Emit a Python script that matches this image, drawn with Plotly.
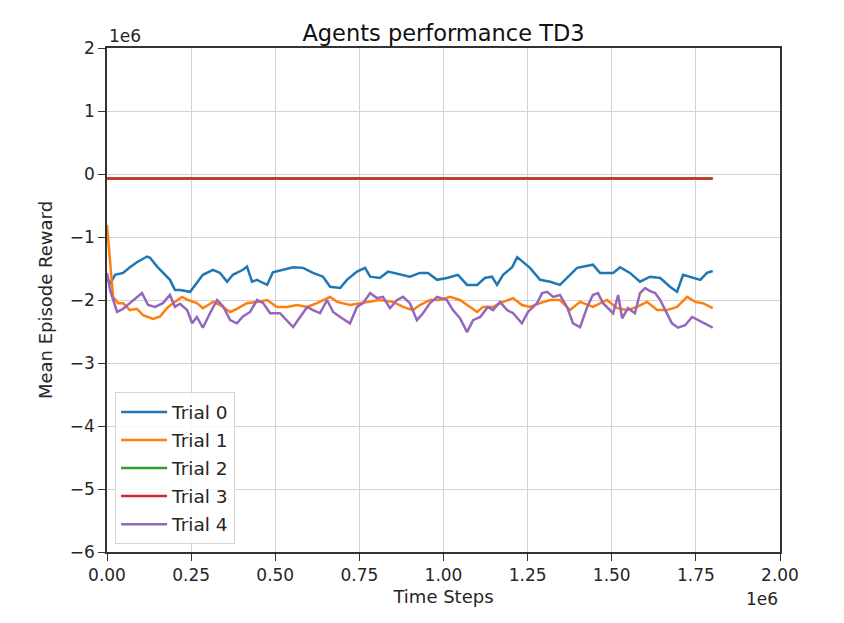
import numpy as np
import plotly.graph_objects as go

# Time steps in thousands, mean episode reward in millions
t_trial0 = [0, 9, 24, 48, 68, 89, 119, 128, 149, 166, 187, 202, 217, 247, 267, 285, 315, 336,
            357, 374, 404, 416, 431, 446, 464, 476, 493, 523, 553, 583, 612, 642, 663, 693,
            713, 743, 767, 782, 811, 835, 871, 900, 930, 954, 981, 1010, 1043, 1070, 1100,
            1123, 1144, 1159, 1177, 1204, 1219, 1236, 1257, 1287, 1317, 1346, 1367, 1397,
            1444, 1465, 1504, 1525, 1554, 1584, 1614, 1644, 1673, 1694, 1712, 1742, 1763,
            1783, 1800]
r_trial0 = [-1.62, -1.75, -1.60, -1.57, -1.48, -1.40, -1.31, -1.33, -1.47, -1.57, -1.68,
            -1.84, -1.84, -1.87, -1.73, -1.60, -1.52, -1.57, -1.71, -1.60, -1.52, -1.47,
            -1.71, -1.68, -1.73, -1.76, -1.56, -1.52, -1.48, -1.49, -1.57, -1.63, -1.79,
            -1.81, -1.68, -1.55, -1.49, -1.63, -1.65, -1.55, -1.60, -1.63, -1.57, -1.57,
            -1.68, -1.65, -1.60, -1.76, -1.76, -1.65, -1.63, -1.76, -1.60, -1.48, -1.32,
            -1.40, -1.49, -1.68, -1.71, -1.76, -1.65, -1.49, -1.44, -1.57, -1.57, -1.48,
            -1.57, -1.71, -1.63, -1.65, -1.79, -1.87, -1.60, -1.65, -1.68, -1.57, -1.54]

t_trial1 = [0, 18, 33, 48, 68, 89, 107, 137, 158, 178, 196, 223, 241, 267, 285, 315, 336,
            366, 386, 416, 446, 476, 505, 535, 565, 595, 624, 663, 684, 722, 752, 782, 811,
            850, 880, 909, 930, 960, 990, 1019, 1049, 1079, 1100, 1117, 1147, 1177, 1207,
            1233, 1257, 1287, 1317, 1346, 1376, 1406, 1444, 1486, 1516, 1545, 1575, 1605,
            1635, 1664, 1694, 1724, 1748, 1771, 1800]
r_trial1 = [-0.81, -1.95, -2.05, -2.05, -2.16, -2.14, -2.24, -2.30, -2.26, -2.13, -2.05,
            -1.95, -2.00, -2.05, -2.13, -2.03, -2.08, -2.19, -2.14, -2.05, -2.03, -2.00,
            -2.11, -2.11, -2.08, -2.11, -2.05, -1.95, -2.03, -2.08, -2.05, -2.03, -2.00,
            -2.03, -2.11, -2.16, -2.08, -2.00, -2.00, -1.95, -2.00, -2.11, -2.19, -2.11,
            -2.11, -2.03, -1.97, -2.08, -2.11, -2.05, -2.00, -2.00, -2.16, -2.03, -2.11,
            -2.00, -2.13, -2.16, -2.11, -2.03, -2.16, -2.16, -2.11, -1.95, -2.03, -2.05,
            -2.13]

t_trial2 = [0, 450, 900, 1350, 1800]
r_trial2 = [-0.07, -0.07, -0.07, -0.07, -0.07]

t_trial3 = [0, 450, 900, 1350, 1800]
r_trial3 = [-0.07, -0.07, -0.07, -0.07, -0.07]

t_trial4 = [0, 9, 30, 48, 68, 89, 104, 122, 143, 166, 187, 202, 217, 238, 253, 267, 285,
            306, 327, 345, 366, 386, 404, 425, 446, 464, 485, 514, 535, 553, 574, 595, 612,
            633, 654, 672, 693, 722, 743, 761, 782, 802, 820, 841, 862, 880, 900, 921, 939,
            960, 981, 1010, 1028, 1049, 1070, 1088, 1109, 1132, 1147, 1168, 1189, 1207,
            1233, 1251, 1278, 1293, 1308, 1326, 1346, 1367, 1385, 1406, 1427, 1444, 1459,
            1474, 1504, 1519, 1531, 1548, 1569, 1584, 1599, 1614, 1629, 1644, 1659, 1679,
            1697, 1718, 1739, 1756, 1777, 1800]
r_trial4 = [-1.57, -1.84, -2.19, -2.14, -2.05, -1.95, -1.89, -2.08, -2.11, -2.05, -1.92,
            -2.11, -2.06, -2.16, -2.37, -2.27, -2.44, -2.21, -2.00, -2.10, -2.32, -2.37,
            -2.26, -2.19, -2.00, -2.05, -2.21, -2.21, -2.32, -2.43, -2.27, -2.11, -2.16,
            -2.21, -2.00, -2.19, -2.27, -2.37, -2.11, -2.05, -1.89, -1.97, -1.95, -2.13,
            -2.00, -1.95, -2.05, -2.32, -2.21, -2.05, -1.95, -2.00, -2.16, -2.29, -2.51,
            -2.32, -2.27, -2.11, -2.16, -2.03, -2.16, -2.21, -2.37, -2.19, -2.05, -1.89,
            -1.87, -1.95, -1.92, -2.11, -2.37, -2.43, -2.11, -1.92, -1.89, -2.05, -2.21,
            -1.92, -2.29, -2.13, -2.21, -1.89, -1.81, -1.86, -1.89, -2.00, -2.16, -2.37,
            -2.44, -2.40, -2.27, -2.32, -2.37, -2.44]

trial_names = ["Trial 0", "Trial 1", "Trial 2", "Trial 3", "Trial 4"]
trial_colors = ["#1f77b4", "#ff7f0e", "#2ca02c", "#d62728", "#9467bd"]
x_ticks = [0.0, 0.25, 0.5, 0.75, 1.0, 1.25, 1.5, 1.75, 2.0]
y_ticks = [-6, -5, -4, -3, -2, -1, 0, 1, 2]

series = [(t_trial0, r_trial0), (t_trial1, r_trial1), (t_trial2, r_trial2),
          (t_trial3, r_trial3), (t_trial4, r_trial4)]

FONT = "DejaVu Sans"
TEXT = "#262626"

fig = go.Figure()
for (t, r), name, color in zip(series, trial_names, trial_colors):
    # axes are shown in units of 1e6 (steps and reward)
    x = np.array(t) * 1e3 / 1e6
    y = np.array(r)
    fig.add_trace(go.Scatter(x=x, y=y, mode="lines", name=name, legendgroup=name,
                             line=dict(color=color, width=2.5)))

axis_common = dict(
    showgrid=True, gridcolor="#d3d3d3", gridwidth=1.2,
    showline=True, linecolor="#333333", linewidth=1.5, mirror=True,
    ticks="outside", ticklen=7, tickcolor="#333333", tickwidth=1.3,
    zeroline=False,
    tickfont=dict(family=FONT, size=17, color=TEXT),
)

fig.update_layout(
    width=844, height=623,
    paper_bgcolor="white", plot_bgcolor="white",
    margin=dict(l=107, r=64, t=48, b=71),
    title=dict(text="Agents performance TD3", x=0.5, xanchor="center",
               xref="paper", y=1, yref="paper", yanchor="bottom",
               pad=dict(b=7),
               font=dict(family=FONT, size=22.5, color="#111111")),
    xaxis=dict(range=[0, 2.0], tickvals=x_ticks, tickformat=".2f",
               title=dict(text="Time Steps", standoff=6,
                          font=dict(family=FONT, size=18, color=TEXT)),
               **axis_common),
    yaxis=dict(range=[-6, 2], tickvals=y_ticks, tickformat="d",
               title=dict(text="Mean Episode Reward", standoff=12,
                          font=dict(family=FONT, size=18, color=TEXT)),
               **axis_common),
    legend=dict(x=0.012, y=0.015, xanchor="left", yanchor="bottom",
                bgcolor="rgba(255,255,255,0.85)", bordercolor="#d6d6d6",
                borderwidth=1, tracegroupgap=1, itemwidth=46,
                font=dict(family=FONT, size=18.5, color=TEXT)),
    showlegend=True,
)

# offset labels for the 1e6 scale on both axes
fig.add_annotation(text="1e6", xref="paper", yref="paper", x=0, y=1,
                   xanchor="left", yanchor="bottom", showarrow=False,
                   font=dict(family=FONT, size=17, color=TEXT))
fig.add_annotation(text="1e6", xref="paper", yref="paper", x=1, y=0,
                   xanchor="right", yanchor="top", yshift=-35, showarrow=False,
                   font=dict(family=FONT, size=17, color=TEXT))

fig.write_html("out.html")
